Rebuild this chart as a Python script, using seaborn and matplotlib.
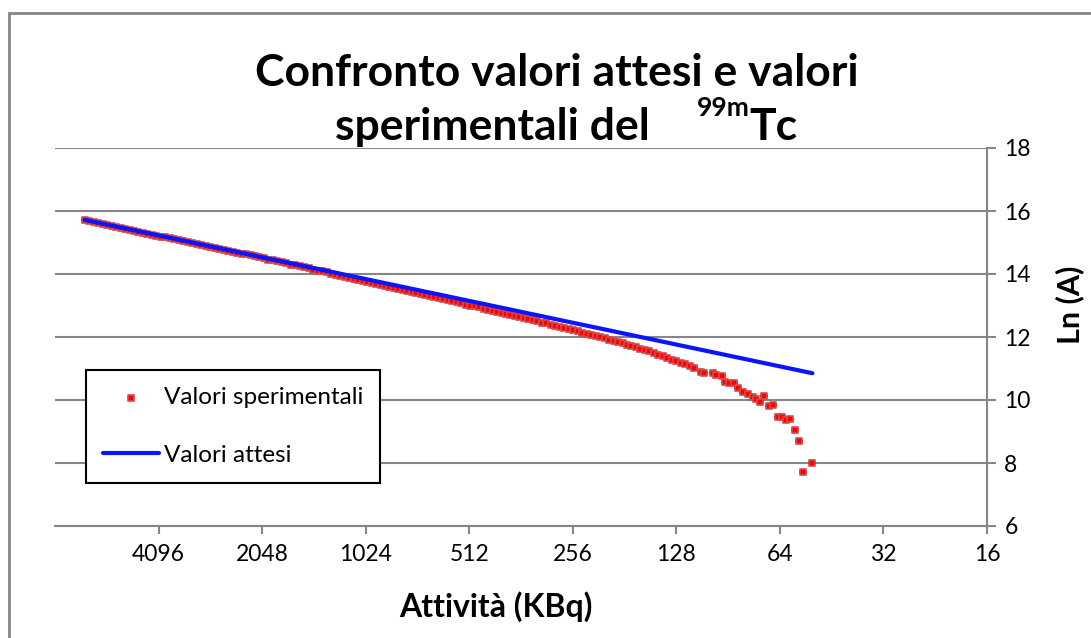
import matplotlib
matplotlib.use("Agg")
import matplotlib.pyplot as plt
import seaborn as sns
from matplotlib.patches import Rectangle
from matplotlib.ticker import NullLocator, FixedLocator, FixedFormatter

# ---------------- data ----------------
exp_x = [6716, 6517.5, 6324.9, 6138.0, 5956.6, 5780.5, 5609.7, 5443.9, 5283.0, 5126.9,
         4975.3, 4828.3, 4685.6, 4547.1, 4412.7, 4282.3, 4155.8, 4033.1, 3913.8, 3798.1,
         3685.8, 3576.9, 3471.2, 3368.6, 3269.0, 3172.4, 3078.6, 2987.7, 2899.4, 2813.7,
         2730.5, 2649.8, 2571.5, 2495.5, 2421.7, 2350.2, 2280.7, 2213.3, 2147.9, 2084.4,
         2022.8, 1963.0, 1905.0, 1848.7, 1794.1, 1741.1, 1689.6, 1639.7, 1591.2, 1544.2,
         1498.5, 1454.2, 1411.2, 1369.6, 1329.1, 1289.8, 1251.7, 1214.7, 1178.8, 1143.9,
         1110.1, 1077.3, 1045.5, 1014.6, 984.6, 955.5, 927.2, 899.8, 873.2, 847.4,
         822.4, 798.1, 774.5, 751.6, 729.4, 707.8, 686.9, 666.6, 646.9, 627.8,
         609.2, 591.2, 573.7, 556.8, 540.3, 524.3, 508.8, 493.8, 479.2, 465.1,
         451.3, 438.0, 425.0, 412.5, 400.3, 388.4, 377.0, 365.8, 355.0, 344.5,
         334.3, 324.4, 314.8, 305.5, 296.5, 287.7, 279.2, 271.0, 263.0, 255.2,
         247.7, 240.3, 233.2, 226.3, 219.6, 213.2, 206.9, 200.7, 194.8, 189.1,
         183.5, 178.1, 172.8, 167.7, 162.7, 157.9, 153.3, 148.7, 144.3, 140.1,
         135.9, 131.9, 128.0, 124.2, 120.6, 117.0, 113.5,
         108.4, 106.3, 100.3, 98.1, 94.5, 92.4, 89.8, 86.8, 84.9, 82.1,
         79.4, 76.8, 75.2, 73.0, 71.1, 68.8, 66.8, 65.0, 63.2, 61.5,
         59.8, 57.8, 56.3, 54.7, 51.5]

exp_y = [15.70, 15.67, 15.64, 15.61, 15.58, 15.55, 15.52, 15.49, 15.46, 15.43,
         15.40, 15.37, 15.34, 15.31, 15.28, 15.25, 15.22, 15.19, 15.16, 15.13,
         15.10, 15.07, 15.04, 15.01, 14.98, 14.95, 14.92, 14.89, 14.86, 14.83,
         14.80, 14.77, 14.74, 14.71, 14.68, 14.65, 14.62, 14.59, 14.56, 14.53,
         14.50, 14.46, 14.43, 14.40, 14.37, 14.34, 14.30, 14.27, 14.24, 14.21,
         14.18, 14.14, 14.11, 14.08, 14.05, 14.01, 13.98, 13.95, 13.91, 13.88,
         13.85, 13.82, 13.78, 13.75, 13.72, 13.69, 13.65, 13.62, 13.59, 13.55,
         13.52, 13.49, 13.46, 13.42, 13.39, 13.36, 13.33, 13.29, 13.26, 13.23,
         13.20, 13.16, 13.13, 13.10, 13.07, 13.03, 13.00, 12.97, 12.94, 12.90,
         12.87, 12.84, 12.80, 12.77, 12.74, 12.71, 12.67, 12.64, 12.60, 12.57,
         12.53, 12.50, 12.46, 12.43, 12.39, 12.36, 12.32, 12.29, 12.25, 12.22,
         12.18, 12.14, 12.11, 12.07, 12.04, 12.00, 11.96, 11.92, 11.88, 11.84,
         11.80, 11.76, 11.71, 11.67, 11.63, 11.59, 11.54, 11.49, 11.44, 11.39,
         11.33, 11.28, 11.23, 11.18, 11.13, 11.07, 11.02,
         10.90, 10.87, 10.87, 10.78, 10.76, 10.57, 10.55, 10.53, 10.37, 10.26,
         10.18, 10.09, 10.04, 9.95, 10.14, 9.81, 9.85, 9.45, 9.47, 9.37,
         9.40, 9.06, 8.70, 7.71, 8.00]

att_x = [6716, 51.5]
att_y = [15.72, 10.85]

x_ticks = [4096, 2048, 1024, 512, 256, 128, 64, 32, 16]
y_ticks = [6, 8, 10, 12, 14, 16, 18]

# ---------------- style ----------------
sns.set_theme(style="white")
plt.rcParams['font.family'] = ['Lato', 'DejaVu Sans']

W, H = 1091, 638
fig = plt.figure(figsize=(W / 100, H / 100), dpi=100)
ax = fig.add_axes([55 / W, 1 - 526 / H, (987 - 55) / W, (526 - 148) / H])

GRAY = '#868686'

# thin black dash behind markers (shadow look)
sns.scatterplot(x=exp_x, y=exp_y, marker='_', s=40, color='black', linewidth=1.3,
                ax=ax, zorder=2, legend=False)
sns.scatterplot(x=exp_x, y=exp_y, marker='s', s=18, color='#ff0000',
                edgecolor='#d24a4a', linewidth=1.2, ax=ax, zorder=3,
                label='Valori sperimentali')
sns.lineplot(x=att_x, y=att_y, color='#0a14ff', linewidth=3, ax=ax, zorder=4,
             label='Valori attesi', sort=False)

ax.set_xscale('log', base=2)
ax.set_xlim(8192, 16)
ax.set_ylim(6, 18)
ax.xaxis.set_major_locator(FixedLocator(x_ticks))
ax.xaxis.set_major_formatter(FixedFormatter([str(t) for t in x_ticks]))
ax.xaxis.set_minor_locator(NullLocator())
ax.set_yticks(y_ticks)
ax.set_xlabel('')
ax.set_ylabel('')

ax.yaxis.grid(True, color=GRAY, linewidth=1.5)
ax.xaxis.grid(False)
ax.set_axisbelow(True)

for s in ['left', 'top']:
    ax.spines[s].set_visible(False)
for s in ['right', 'bottom']:
    ax.spines[s].set_color(GRAY)
    ax.spines[s].set_linewidth(1.5)

ax.yaxis.tick_right()
ax.tick_params(axis='y', which='major', right=True, left=False, length=6.5, width=1.5,
               color=GRAY, labelsize=16.5, pad=6, labelcolor='black')
ax.tick_params(axis='x', which='major', bottom=True, length=6, width=1.5,
               color=GRAY, labelsize=16.5, pad=7, labelcolor='black')

# ---------------- texts ----------------
fig.text(557 / W, 1 - 86 / H, 'Confronto valori attesi e valori', ha='center',
         va='baseline', fontsize=32, fontweight='bold', color='black')
fig.text(335 / W, 1 - 140 / H, 'sperimentali del', ha='left', va='baseline',
         fontsize=32, fontweight='bold', color='black')
fig.text(697 / W, 1 - 116 / H, '99m', ha='left', va='baseline',
         fontsize=19, fontweight='bold', color='black')
fig.text(749 / W, 1 - 140 / H, 'Tc', ha='left', va='baseline',
         fontsize=32, fontweight='bold', color='black')

fig.text(496 / W, 1 - 607 / H, 'Attività (KBq)', ha='center', va='center',
         fontsize=23, fontweight='bold', color='black')
fig.text(1070 / W, 1 - 305 / H, 'Ln (A)', ha='center', va='center', rotation=90,
         fontsize=22, fontweight='bold', color='black')

# chart-area border (left and top visible)
fig.add_artist(Rectangle((9 / W, -0.2), 2.0, 1.2 - 13 / H, transform=fig.transFigure,
                         fill=False, edgecolor=GRAY, linewidth=2))

# ---------------- legend ----------------
handles, labels = ax.get_legend_handles_labels()
leg = ax.legend(handles, labels, loc='upper left',
                bbox_to_anchor=(86 / W, 1 - 370 / H), bbox_transform=fig.transFigure,
                frameon=True, fancybox=False, edgecolor='black', framealpha=1,
                fontsize=17.5, handlelength=2.3, handletextpad=0.2, borderpad=0.7,
                labelspacing=1.5, borderaxespad=0, scatterpoints=1)
leg.get_frame().set_linewidth(1.5)
for t in leg.get_texts():
    t.set_color('black')

fig.savefig('out.png', dpi=100)
